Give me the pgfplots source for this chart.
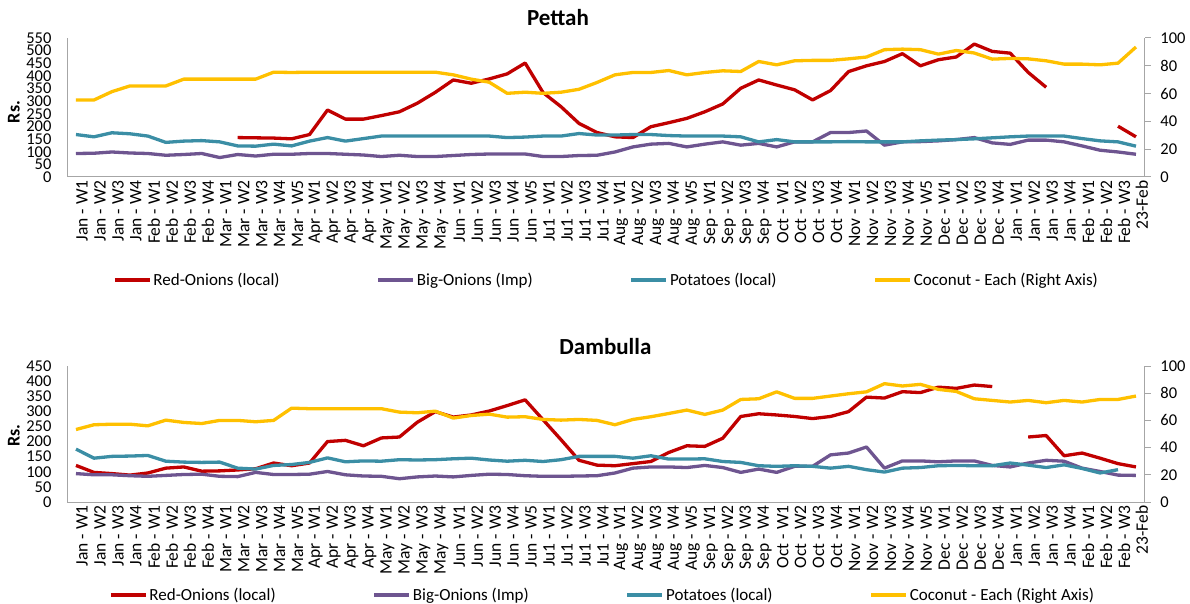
\documentclass[border=0pt]{standalone}
\usepackage{pgfplots}
\pgfplotsset{compat=1.18}
\usepackage{pgfplotstable}
\usepackage{fontspec}
\setmainfont{Carlito}
\definecolor{cred}{HTML}{C00000}
\definecolor{cpurple}{HTML}{6E5590}
\definecolor{cteal}{HTML}{3B8EA5}
\definecolor{cyellow}{HTML}{FFC000}
\definecolor{axgray}{HTML}{A6A6A6}

\pgfplotstableread{
i red big pot coco
0 nan 93 168 55.4
1 nan 94 159 55.4
2 nan 99 175 61.4
3 nan 95 171 65.5
4 nan 93 162 65.5
5 nan 86 137 65.5
6 nan 89 142 70.4
7 nan 93 144 70.4
8 nan 77 139 70.4
9 156 89 123 70.4
10 155 83 122 70.4
11 154 90 130 75.4
12 151 90 123 75.2
13 168 93 142 75.4
14 265 93 156 75.4
15 229 90 142 75.4
16 229 87 152 75.4
17 243 81 162 75.4
18 258 86 162 75.4
19 292 81 162 75.4
20 335 81 162 75.4
21 384 85 162 73.5
22 371 89 162 70.4
23 388 91 162 68.2
24 408 91 156 60.2
25 451 91 158 61
26 334 81 162 60.2
27 278 81 162 61
28 212 85 172 63.1
29 176 86 166 68
30 159 99 166 73.5
31 156 119 168 75.2
32 199 130 168 75.2
33 215 133 164 76.6
34 232 119 162 73.5
35 258 130 162 75.2
36 289 139 162 76.4
37 351 126 159 75.9
38 384 133 139 83.1
39 364 119 148 80.7
40 345 139 139 83.6
41 305 139 139 83.9
42 342 176 139 83.9
43 417 176 140 85
44 440 182 139 86.3
45 457 126 139 91.6
46 488 139 139 92
47 440 140 143 91.6
48 464 143 146 88.4
49 475 148 148 91
50 526 156 151 89.2
51 497 135 155 84.8
52 490 129 159 85.3
53 414 146 162 85
54 355 146 162 83.6
55 nan 139 162 81.2
56 nan 123 152 81.2
57 nan 106 143 80.7
58 201 99 139 81.9
59 159 90 122 93.5
}\pettah

\pgfplotstableread{
i red big pot coco
0 121 94 175 53.3
1 98 90 145 56.8
2 94 90 151 57.2
3 89 87 152 57.2
4 96 85 154 56
5 112 88 135 60.2
6 116 91 132 58.5
7 102 92 131 57.7
8 103 85 132 60
9 106 84 112 60
10 110 98 109 59
11 129 91 121 60
12 120 91 124 69
13 129 92 131 68.6
14 200 101 146 68.6
15 204 90 133 68.6
16 186 86 136 68.6
17 212 85 135 68.6
18 215 77 140 66.1
19 264 83 139 65.6
20 299 86 140 66.8
21 281 83 143 61.7
22 288 88 145 63.6
23 301 92 139 64.6
24 319 91 135 62.4
25 338 87 138 62.7
26 272 85 134 60.7
27 206 85 140 60.2
28 138 86 151 60.7
29 122 87 151 60
30 120 96 151 56.8
31 127 112 145 60.7
32 134 116 153 62.7
33 164 116 142 65.1
34 186 114 142 67.6
35 184 121 143 64.4
36 211 114 134 67.6
37 283 98 131 75.4
38 292 109 120 75.9
39 288 98 118 81
40 283 118 120 76.2
41 276 118 118 76.2
42 283 156 112 77.9
43 299 162 118 79.6
44 347 182 107 81
45 344 112 99 87
46 365 136 112 85.3
47 362 136 114 86.5
48 380 133 120 82.8
49 376 136 121 81.3
50 387 136 120 75.9
51 382 121 120 74.7
52 nan 116 129 73.5
53 215 129 122 74.7
54 220 138 114 73
55 153 135 123 74.7
56 162 112 111 73.5
57 145 101 96 75.4
58 127 89 107 75.4
59 116 88 nan 77.9
}\dambulla

\pgfplotsset{
  base/.style={
    scale only axis, width=1078pt, anchor=south west,
    xmin=-0.5, xmax=59.5,
    /pgf/number format/assume math mode=true,
    ticklabel style={font=\fontsize{16.5}{17}\selectfont},
    unbounded coords=jump,
  },
  leftax/.style={
    base,
    axis x line*=bottom, axis y line*=left,
    axis line style={draw=axgray, line width=1pt},
    major tick length=0pt,
    xtick={0,...,59},
    xticklabels={Jan - W1,Jan - W2,Jan - W3,Jan - W4,Feb - W1,Feb - W2,Feb - W3,Feb - W4,Mar - W1,Mar - W2,Mar - W3,Mar - W4,Mar - W5,Apr - W1,Apr - W2,Apr - W3,Apr - W4,May - W1,May - W2,May - W3,May - W4,Jun - W1,Jun - W2,Jun - W3,Jun - W4,Jun - W5,Ju1 - W1,Ju1 - W2,Ju1 - W3,Ju1 - W4,Aug - W1,Aug - W2,Aug - W3,Aug - W4,Aug - W5,Sep - W1,Sep - W2,Sep - W3,Sep - W4,Oct - W1,Oct - W2,Oct - W3,Oct - W4,Nov - W1,Nov - W2,Nov - W3,Nov - W4,Nov - W5,Dec - W1,Dec - W2,Dec - W3,Dec - W4,Jan - W1,Jan - W2,Jan - W3,Jan - W4,Feb - W1,Feb - W2,Feb - W3,23-Feb},
    xticklabel style={rotate=90, anchor=east, yshift=-6pt, font=\fontsize{17.5}{18}\selectfont},
    yticklabel style={xshift=-12pt},
    ylabel={\textbf{Rs.}},
    ylabel style={font=\fontsize{18}{19}\selectfont, anchor=center},
    legend columns=4,
    legend image code/.code={\draw[line width=3.2pt] (0pt,0pt) -- (35pt,0pt);},
    legend style={draw=none, fill=none, inner sep=0pt, font=\fontsize{17}{18}\selectfont,
      /tikz/every even column/.append style={column sep=95pt},
      nodes={inner xsep=2pt}},
    title style={font=\fontsize{23}{24}\bfseries\selectfont, anchor=center},
  },
  rightax/.style={
    base,
    axis y line*=right, axis x line=none,
    y axis line style={draw=axgray, line width=1pt},
    ytick style={draw=axgray, line width=1pt},
    major tick length=6pt, tick align=outside,
    ymin=0, ymax=100, ytick={0,20,...,100},
    yticklabel style={anchor=west, xshift=6pt},
  },
  ln/.style={line width=3.3pt, line join=round},
}

\begin{document}
\begin{tikzpicture}
\useasboundingbox (0pt,0pt) rectangle (1190pt,603pt);
% ---------- Pettah ----------
\begin{axis}[leftax, at={(67pt,426pt)}, height=139pt, ymin=0, ymax=550, ytick={0,50,...,550},
  ylabel style={at={(axis description cs:-0.0492,0.468)}},
  title={Pettah}, title style={at={(axis description cs:0.4555,1)}, yshift=14pt},
  legend style={at={(axis description cs:0.0427,-0.741)}, anchor=west}]
\addplot[ln, cred] table[x=i,y=red] {\pettah};
\addplot[ln, cpurple] table[x=i,y=big] {\pettah};
\addplot[ln, cteal] table[x=i,y=pot] {\pettah};
\addlegendimage{ln, cyellow}
\legend{Red-Onions (local),Big-Onions (Imp),Potatoes (local),Coconut - Each (Right Axis)}
\end{axis}
\begin{axis}[rightax, at={(67pt,426pt)}, height=139pt]
\addplot[ln, cyellow] table[x=i,y=coco] {\pettah};
\end{axis}
% ---------- Dambulla ----------
\begin{axis}[leftax, at={(67pt,101pt)}, height=136pt, ymin=0, ymax=450, ytick={0,50,...,450},
  ylabel style={at={(axis description cs:-0.0492,0.49)}},
  title={Dambulla}, title style={at={(axis description cs:0.4995,1)}, yshift=13pt},
  legend style={at={(axis description cs:0.039,-0.684)}, anchor=west}]
\addplot[ln, cred] table[x=i,y=red] {\dambulla};
\addplot[ln, cpurple] table[x=i,y=big] {\dambulla};
\addplot[ln, cteal] table[x=i,y=pot] {\dambulla};
\addlegendimage{ln, cyellow}
\legend{Red-Onions (local),Big-Onions (Imp),Potatoes (local),Coconut - Each (Right Axis)}
\end{axis}
\begin{axis}[rightax, at={(67pt,101pt)}, height=136pt]
\addplot[ln, cyellow] table[x=i,y=coco] {\dambulla};
\end{axis}
\end{tikzpicture}
\end{document}
